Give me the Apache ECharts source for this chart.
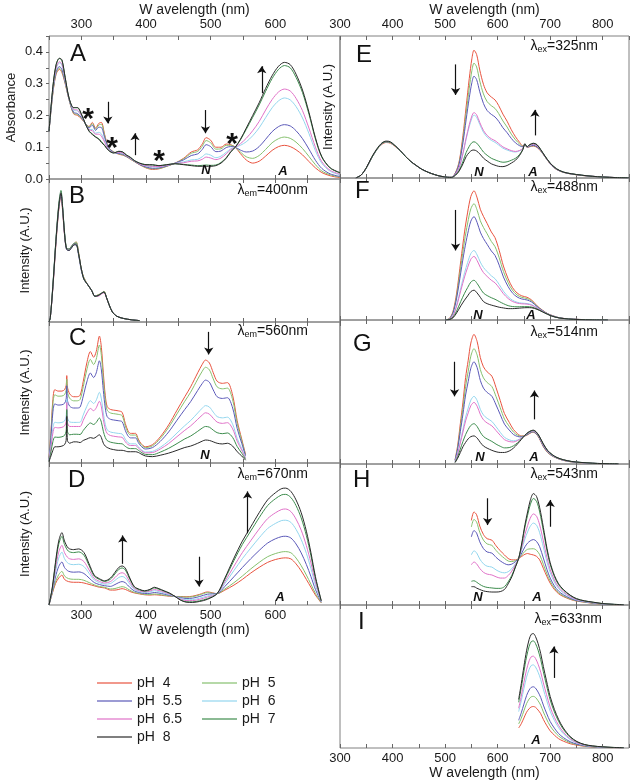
<!DOCTYPE html>
<html><head><meta charset="utf-8">
<script src="https://cdn.jsdelivr.net/npm/echarts@6/dist/echarts.min.js"></script>
<style>html,body{margin:0;padding:0;background:#fff}#c{width:636px;height:783px}</style>
</head><body><div id="c"></div>
<script>
// ---------------- DATA ----------------
const phLabels = ['pH 4','pH 5','pH 5.5','pH 6','pH 6.5','pH 7','pH 8'];
const leftTickLabels = [300,400,500,600];
const rightTickLabels = [300,400,500,600,700,800];
const absTickLabels = [0,0.1,0.2,0.3,0.4];

// Panel A: absorbance (order of rows: pH 4,5,5.5,6,6.5,7,8)
const A_wl = [250,256,261,266,270,275,281,288,294,300,306,312,317,322,327,331,336,342,350,358,364,370,376,382,390,400,410,420,432,445,458,470,480,487,493,500,508,516,524,531,538,546,555,565,575,585,595,605,614,623,632,642,652,662,672,685,700];
const A_y = [
[.15,.27,.33,.345,.335,.30,.25,.205,.20,.19,.175,.165,.178,.16,.175,.178,.14,.10,.085,.078,.075,.07,.062,.055,.045,.035,.03,.032,.04,.05,.065,.085,.092,.11,.13,.122,.10,.10,.11,.108,.10,.08,.06,.05,.056,.072,.09,.102,.106,.102,.092,.076,.055,.035,.02,.01,.004],
[.15,.272,.333,.349,.339,.302,.25,.207,.203,.192,.175,.164,.174,.157,.17,.172,.137,.099,.085,.079,.076,.07,.063,.055,.046,.036,.032,.033,.04,.05,.063,.081,.087,.103,.121,.114,.094,.095,.106,.106,.1,.085,.07,.065,.074,.093,.114,.127,.132,.128,.116,.096,.071,.045,.025,.013,.006],
[.15,.275,.338,.354,.345,.305,.251,.21,.206,.194,.175,.161,.169,.153,.163,.162,.131,.098,.084,.08,.078,.071,.064,.056,.046,.038,.034,.035,.041,.05,.06,.074,.079,.093,.108,.102,.086,.088,.099,.102,.1,.091,.085,.088,.102,.125,.149,.165,.171,.167,.152,.127,.094,.059,.033,.016,.008],
[.15,.281,.347,.365,.358,.311,.253,.216,.214,.199,.175,.156,.156,.144,.147,.142,.12,.094,.083,.083,.081,.073,.065,.057,.048,.041,.039,.038,.043,.049,.054,.06,.062,.07,.079,.075,.067,.072,.084,.095,.1,.106,.117,.136,.161,.193,.224,.246,.255,.249,.228,.192,.143,.089,.049,.024,.013],
[.15,.284,.35,.369,.362,.314,.253,.219,.217,.2,.175,.155,.152,.141,.141,.135,.116,.093,.083,.084,.082,.073,.066,.057,.048,.042,.04,.039,.043,.049,.051,.056,.057,.062,.069,.066,.061,.066,.079,.092,.1,.111,.128,.152,.181,.217,.25,.274,.283,.277,.254,.215,.16,.1,.054,.027,.015],
[.15,.289,.359,.379,.373,.319,.255,.224,.224,.204,.175,.151,.142,.133,.127,.118,.106,.09,.082,.087,.085,.075,.068,.058,.05,.045,.044,.042,.045,.048,.046,.044,.042,.043,.044,.043,.044,.052,.067,.086,.1,.123,.156,.194,.233,.276,.316,.345,.357,.35,.32,.272,.204,.126,.068,.034,.019],
[.15,.29,.36,.38,.375,.32,.255,.225,.225,.205,.175,.15,.14,.132,.125,.115,.105,.09,.082,.087,.085,.075,.068,.058,.05,.045,.045,.042,.045,.048,.045,.042,.04,.04,.04,.04,.042,.05,.065,.085,.10,.125,.16,.2,.24,.285,.325,.355,.367,.36,.33,.28,.21,.13,.07,.035,.02]
];

// Panel B: excitation, emission 400 nm
const B_wl = [250,252,256,260,263,266,268.5,271,274,277,281,285,289,292,296,300,304,310,316,321,326,331,335,339,343,348,355,365,378,390];
const B_y = [
[0,.03,.24,.50,.68,.82,.88,.78,.61,.52,.51,.53,.55,.56,.48,.37,.31,.26,.22,.18,.19,.2,.215,.17,.12,.07,.04,.025,.015,.01],
[0,.03,.25,.52,.70,.84,.90,.80,.62,.52,.51,.53,.55,.56,.48,.37,.31,.26,.22,.18,.19,.2,.215,.17,.12,.07,.04,.025,.015,.01],
[0,.03,.24,.51,.69,.83,.89,.79,.61,.51,.50,.52,.54,.54,.46,.36,.30,.26,.22,.18,.185,.2,.21,.17,.12,.07,.04,.025,.015,.01],
[0,.03,.26,.53,.71,.85,.91,.81,.63,.52,.51,.53,.55,.55,.47,.37,.30,.26,.22,.18,.185,.2,.21,.17,.12,.07,.04,.025,.015,.01],
[0,.03,.25,.52,.71,.85,.91,.80,.62,.52,.51,.53,.55,.55,.47,.37,.30,.26,.22,.18,.18,.195,.205,.165,.12,.07,.04,.025,.015,.01],
[0,.03,.26,.53,.72,.86,.92,.81,.63,.52,.51,.53,.55,.55,.47,.37,.30,.26,.22,.18,.185,.2,.21,.17,.12,.07,.04,.025,.015,.01],
[0,.03,.25,.52,.70,.84,.90,.80,.62,.51,.50,.52,.54,.54,.47,.37,.30,.26,.22,.18,.185,.2,.21,.17,.12,.07,.04,.025,.015,.01]
];

// Panel C: excitation, emission 560 nm
const C_wl = [250,253,256,259,264,270,274,276.5,277.5,278.5,282,288,293,298,303,308.5,314,319,323,328,331,334,337,340,345,350,357,363,368,372,376,380,384,388,392,399,410,422,435,448,460,469,480,487,492,498,504,510,518,526,534,541,548,554];
const C_y = [
[.03,.22,.45,.52,.51,.51,.52,.55,.62,.54,.49,.47,.47,.48,.58,.71,.79,.75,.79,.90,.82,.64,.48,.40,.38,.375,.37,.36,.28,.23,.21,.21,.21,.17,.14,.115,.13,.185,.27,.375,.47,.54,.64,.70,.73,.71,.64,.58,.565,.57,.48,.30,.17,.06],
[.028,.205,.418,.484,.474,.475,.485,.515,.594,.506,.459,.441,.441,.45,.542,.661,.735,.698,.736,.837,.762,.595,.448,.374,.355,.35,.345,.336,.262,.217,.198,.198,.198,.161,.133,.109,.122,.173,.252,.349,.438,.502,.595,.651,.679,.661,.596,.54,.526,.531,.448,.28,.159,.056],
[.025,.178,.36,.419,.411,.413,.423,.453,.548,.445,.403,.39,.39,.396,.475,.575,.638,.606,.639,.725,.66,.515,.39,.328,.31,.305,.3,.293,.231,.193,.178,.178,.178,.146,.121,.099,.109,.153,.22,.304,.38,.435,.515,.564,.588,.573,.518,.47,.458,.463,.39,.245,.14,.05],
[.019,.123,.245,.289,.285,.288,.298,.328,.455,.323,.291,.288,.288,.289,.341,.402,.442,.422,.445,.501,.455,.355,.275,.235,.22,.215,.21,.206,.169,.145,.136,.136,.136,.116,.097,.078,.082,.111,.156,.213,.265,.301,.355,.389,.407,.397,.361,.329,.32,.325,.275,.175,.102,.037],
[.017,.108,.212,.253,.249,.253,.263,.293,.429,.289,.259,.259,.259,.259,.303,.354,.387,.371,.391,.438,.398,.31,.242,.209,.195,.19,.185,.182,.151,.131,.124,.124,.124,.107,.091,.072,.074,.099,.138,.187,.232,.263,.31,.34,.356,.347,.317,.29,.281,.286,.242,.155,.091,.034],
[.013,.079,.151,.184,.182,.186,.196,.226,.379,.225,.2,.204,.204,.202,.231,.262,.284,.273,.288,.319,.289,.225,.181,.159,.148,.143,.138,.136,.118,.106,.102,.102,.102,.091,.078,.061,.059,.077,.104,.138,.171,.191,.225,.248,.259,.254,.233,.215,.208,.213,.181,.117,.07,.027],
[.01,.05,.09,.115,.115,.12,.13,.16,.33,.16,.14,.15,.15,.145,.16,.17,.18,.175,.185,.2,.18,.14,.12,.11,.10,.095,.09,.09,.085,.08,.08,.08,.08,.075,.065,.05,.045,.055,.07,.09,.11,.12,.14,.155,.163,.16,.15,.14,.135,.14,.12,.08,.05,.02]
];

// Panel D: excitation, emission 670 nm
const D_wl = [250,255,260,265,270,274,280,288,296,304,312,320,328,336,345,352,358,363,368,375,382,390,398,406,413,420,428,436,445,453,462,472,483,495,510,522,536,549,562,575,588,600,610,616,624,632,640,648,655,662,671];
const D_y = [
[0,.08,.15,.19,.21,.18,.165,.16,.16,.155,.145,.135,.125,.12,.105,.105,.11,.115,.11,.095,.085,.078,.072,.07,.072,.07,.066,.062,.06,.06,.058,.062,.075,.092,.08,.105,.14,.18,.225,.265,.30,.32,.33,.332,.325,.29,.24,.18,.125,.07,.015],
[0,.084,.164,.213,.237,.204,.186,.181,.181,.174,.158,.142,.13,.125,.113,.116,.124,.129,.124,.104,.089,.081,.075,.074,.077,.074,.069,.064,.06,.058,.055,.058,.071,.087,.08,.113,.157,.204,.254,.3,.34,.362,.374,.376,.368,.331,.277,.211,.147,.082,.016],
[0,.092,.197,.271,.303,.264,.238,.231,.233,.222,.19,.158,.144,.136,.131,.144,.158,.165,.157,.124,.099,.088,.081,.082,.088,.084,.077,.069,.06,.052,.046,.048,.06,.076,.08,.131,.199,.264,.326,.384,.436,.466,.482,.484,.472,.43,.367,.285,.201,.11,.02],
[0,.102,.231,.33,.372,.326,.292,.284,.287,.271,.223,.176,.157,.147,.151,.173,.194,.201,.191,.146,.109,.095,.087,.092,.101,.094,.084,.074,.06,.047,.037,.038,.048,.064,.08,.151,.243,.326,.401,.473,.538,.574,.595,.597,.582,.533,.461,.364,.257,.14,.023],
[0,.108,.255,.372,.42,.369,.33,.321,.325,.306,.247,.188,.167,.155,.165,.193,.219,.227,.215,.162,.117,.1,.092,.098,.109,.102,.09,.078,.06,.043,.031,.031,.04,.056,.08,.165,.273,.369,.453,.535,.608,.649,.673,.676,.658,.605,.527,.418,.297,.161,.026],
[0,.116,.287,.427,.483,.426,.379,.369,.374,.351,.277,.203,.18,.166,.182,.219,.251,.261,.247,.181,.126,.107,.097,.106,.12,.111,.097,.083,.06,.037,.023,.022,.03,.045,.08,.182,.313,.426,.521,.615,.7,.748,.776,.779,.757,.7,.613,.489,.348,.188,.029],
[0,.12,.30,.45,.51,.45,.40,.39,.395,.37,.29,.21,.185,.17,.19,.23,.265,.275,.26,.19,.13,.11,.10,.11,.125,.115,.10,.085,.06,.035,.02,.018,.025,.04,.08,.19,.33,.45,.55,.65,.74,.79,.82,.823,.80,.74,.65,.52,.37,.20,.03]
];

// Panel E: emission, excitation 325 nm
const E_wl = [330,340,350,360,370,380,388,396,405,415,425,435,445,455,468,480,492,505,512,520,527,534,540,546,551,555,560,566,573,580,588,595,602,610,618,626,634,642,648,652,656,661,668,675,682,690,700,712,725,740,760,780,800,825,850];
const E_y = [
[0,.02,.07,.14,.2,.238,.25,.245,.222,.188,.15,.115,.088,.063,.04,.024,.012,.005,.005,.04,.12,.30,.50,.70,.84,.90,.87,.76,.66,.60,.57,.55,.51,.45,.40,.34,.29,.25,.225,.24,.215,.22,.225,.215,.19,.15,.10,.06,.04,.028,.018,.012,.007,.003,.001],
[0,.02,.07,.14,.2,.243,.255,.25,.225,.19,.15,.115,.088,.063,.04,.024,.012,.005,.005,.037,.111,.274,.455,.632,.756,.809,.782,.683,.592,.538,.509,.49,.454,.402,.359,.309,.269,.238,.222,.24,.216,.222,.228,.218,.191,.151,.101,.061,.04,.028,.018,.012,.007,.003,.001],
[0,.02,.07,.14,.2,.243,.255,.25,.225,.19,.15,.115,.088,.063,.04,.024,.012,.005,.005,.035,.102,.248,.409,.565,.672,.717,.693,.607,.525,.475,.448,.43,.399,.354,.319,.279,.247,.227,.219,.24,.216,.224,.23,.22,.193,.151,.101,.061,.041,.029,.019,.012,.007,.003,.001],
[0,.02,.07,.14,.2,.243,.255,.25,.225,.19,.15,.115,.088,.063,.04,.024,.012,.005,.004,.027,.075,.17,.273,.362,.421,.443,.428,.377,.322,.288,.265,.251,.232,.21,.197,.187,.183,.192,.209,.24,.218,.23,.238,.228,.197,.153,.103,.063,.041,.029,.019,.012,.007,.003,.001],
[0,.02,.07,.14,.2,.243,.255,.25,.225,.19,.15,.115,.088,.063,.04,.024,.012,.005,.004,.028,.076,.175,.281,.375,.437,.461,.445,.391,.335,.3,.276,.263,.243,.219,.205,.193,.187,.194,.209,.24,.217,.229,.238,.228,.196,.153,.103,.063,.041,.029,.019,.012,.007,.003,.001],
[0,.02,.07,.14,.2,.243,.255,.25,.225,.19,.15,.115,.088,.063,.04,.024,.012,.005,.004,.022,.056,.117,.179,.223,.249,.255,.246,.219,.183,.16,.139,.128,.118,.111,.114,.125,.139,.167,.202,.24,.22,.234,.243,.233,.199,.155,.105,.065,.042,.03,.02,.012,.007,.003,.001],
[0,.02,.072,.145,.205,.248,.26,.255,.228,.192,.152,.116,.089,.063,.04,.024,.012,.005,.004,.02,.05,.10,.15,.18,.195,.197,.19,.17,.14,.12,.10,.09,.082,.08,.088,.105,.125,.16,.20,.24,.22,.235,.245,.235,.20,.155,.105,.065,.042,.03,.02,.012,.007,.003,.001]
];

// Panel F: emission, excitation 488 nm
const F_wl = [500,508,515,522,530,537,543,549,555,561,567,573,580,588,595,603,611,620,628,637,646,656,665,675,685,695,705,718,735,755,780,810];
const F_y = [
[0,.01,.06,.19,.42,.62,.76,.87,.91,.86,.78,.73,.68,.62,.58,.49,.38,.29,.23,.19,.17,.16,.14,.10,.07,.045,.03,.015,.008,.004,.001,0],
[0,.009,.054,.172,.378,.558,.683,.783,.819,.773,.699,.652,.607,.553,.517,.438,.342,.263,.211,.176,.159,.151,.133,.097,.068,.044,.029,.015,.008,.004,.001,0],
[0,.008,.048,.154,.337,.495,.607,.696,.728,.686,.619,.574,.533,.486,.455,.386,.303,.235,.191,.162,.148,.141,.126,.094,.067,.044,.029,.015,.008,.004,.001,0],
[0,.006,.033,.106,.228,.332,.406,.468,.49,.458,.408,.37,.341,.311,.291,.25,.203,.164,.14,.125,.119,.116,.108,.085,.063,.042,.027,.014,.007,.003,.001,0],
[0,.005,.03,.098,.209,.303,.371,.428,.448,.418,.371,.334,.307,.28,.262,.226,.185,.151,.131,.119,.114,.112,.104,.084,.062,.042,.027,.014,.007,.003,.001,0],
[0,.004,.02,.064,.132,.188,.229,.267,.28,.257,.222,.19,.172,.157,.146,.13,.115,.101,.095,.093,.094,.094,.091,.078,.059,.041,.026,.014,.007,.003,.001,0],
[0,.003,.015,.05,.1,.14,.17,.2,.21,.19,.16,.13,.115,.105,.098,.09,.085,.08,.08,.082,.085,.087,.086,.075,.058,.04,.025,.014,.007,.003,.001,0]
];

// Panel G: emission, excitation 514 nm
const G_wl = [519,524,529,534,539,544,549,555,561,567,573,580,589,597,605,613,622,630,638,645,652,658,664,668,673,679,687,695,704,713,725,740,755,770,790,810,830];
const G_y = [
[.03,.13,.28,.43,.60,.72,.84,.90,.85,.74,.675,.64,.61,.53,.44,.35,.29,.24,.21,.195,.195,.205,.218,.22,.21,.18,.12,.08,.055,.04,.025,.015,.01,.006,.003,.002,.001],
[.027,.117,.252,.387,.537,.644,.749,.801,.756,.657,.598,.566,.538,.468,.39,.312,.262,.222,.2,.192,.196,.207,.22,.222,.212,.182,.123,.082,.056,.041,.026,.015,.01,.006,.003,.002,.001],
[.025,.106,.226,.346,.479,.573,.665,.71,.669,.581,.527,.497,.471,.41,.343,.277,.236,.205,.191,.188,.196,.209,.222,.224,.214,.184,.125,.084,.058,.041,.026,.016,.011,.007,.003,.002,.001],
[.018,.075,.158,.241,.326,.388,.444,.47,.441,.38,.34,.317,.296,.259,.22,.185,.168,.161,.167,.18,.198,.214,.227,.229,.219,.189,.132,.089,.061,.043,.028,.017,.011,.007,.004,.002,.001],
[.017,.07,.146,.222,.299,.355,.405,.428,.401,.345,.307,.285,.265,.232,.199,.169,.156,.153,.163,.178,.198,.215,.227,.23,.22,.19,.133,.09,.062,.043,.028,.017,.011,.007,.004,.002,.001],
[.012,.051,.104,.157,.204,.24,.268,.28,.26,.221,.191,.174,.157,.138,.123,.112,.114,.126,.148,.173,.199,.218,.23,.233,.223,.193,.138,.093,.064,.044,.029,.018,.012,.008,.004,.002,.001],
[.01,.04,.08,.12,.15,.175,.19,.195,.18,.15,.125,.11,.095,.085,.08,.08,.09,.11,.14,.17,.2,.22,.232,.235,.225,.195,.14,.095,.065,.045,.03,.018,.012,.008,.004,.002,.001]
];

// Panel H: emission, excitation 543 nm
const H_wl = [550,555,560,566,573,580,589,597,605,613,620,627,634,640,646,652,657,662,668,674,680,687,694,700,708,716,725,738,750,765,782,800,820,840];
const H_y = [
[.60,.66,.64,.56,.50,.47,.46,.42,.385,.355,.33,.32,.32,.33,.345,.36,.365,.36,.355,.345,.32,.26,.20,.155,.11,.08,.06,.04,.028,.02,.012,.006,.003,.001],
[.553,.607,.588,.515,.46,.433,.423,.387,.356,.331,.312,.308,.315,.33,.355,.381,.395,.398,.399,.388,.357,.289,.22,.17,.12,.087,.065,.043,.03,.021,.013,.006,.003,.001],
[.483,.528,.51,.448,.4,.376,.368,.338,.313,.294,.285,.29,.308,.33,.369,.413,.439,.455,.464,.451,.413,.333,.25,.191,.135,.098,.073,.048,.032,.023,.014,.007,.004,.001],
[.356,.384,.37,.326,.292,.275,.269,.249,.234,.228,.236,.258,.294,.33,.394,.469,.518,.558,.581,.566,.512,.411,.304,.23,.162,.116,.086,.056,.037,.025,.016,.008,.004,.002],
[.285,.305,.292,.259,.232,.219,.213,.2,.191,.191,.209,.24,.287,.33,.409,.501,.563,.615,.646,.63,.568,.454,.334,.252,.177,.127,.094,.06,.039,.027,.017,.009,.004,.002],
[.168,.172,.162,.146,.132,.125,.121,.118,.118,.13,.164,.21,.274,.33,.432,.553,.636,.71,.755,.736,.66,.527,.384,.288,.202,.144,.106,.068,.044,.029,.019,.01,.005,.002],
[.13,.13,.12,.11,.10,.095,.092,.092,.095,.11,.15,.20,.27,.33,.44,.57,.66,.74,.79,.77,.69,.55,.40,.30,.21,.15,.11,.07,.045,.03,.02,.01,.005,.002]
];

// Panel I: emission, excitation 633 nm
const I_wl = [640,645,650,655,660,664,668,672,677,682,687,693,700,708,716,725,738,751,765,780,800,820,840];
const I_y = [
[.14,.17,.21,.25,.275,.287,.29,.285,.265,.24,.20,.16,.12,.09,.065,.048,.03,.02,.012,.007,.004,.002,.001],
[.168,.209,.26,.31,.343,.358,.361,.354,.33,.299,.252,.203,.154,.115,.084,.061,.037,.024,.014,.008,.005,.002,.001],
[.194,.246,.307,.366,.406,.424,.428,.419,.391,.353,.3,.244,.185,.139,.101,.073,.044,.027,.016,.009,.005,.003,.001],
[.254,.33,.415,.495,.551,.577,.581,.567,.53,.479,.411,.337,.257,.193,.142,.1,.059,.034,.019,.012,.006,.003,.002],
[.278,.363,.458,.547,.61,.638,.642,.627,.586,.53,.455,.374,.286,.214,.158,.111,.065,.037,.021,.013,.007,.003,.002],
[.32,.422,.534,.637,.712,.744,.749,.731,.684,.618,.533,.439,.336,.252,.187,.131,.075,.043,.024,.014,.008,.004,.002],
[.34,.45,.57,.68,.76,.795,.80,.78,.73,.66,.57,.47,.36,.27,.20,.14,.08,.045,.025,.015,.008,.004,.002]
];

// Arrow annotations per panel: [wavelength, from, to]
const A_arrows = [[341,.243,.175],[383,.075,.144],[492,.217,.144],[579,.27,.355]];
const B_arrows = [];
const C_arrows = [[497,.93,.77]];
const D_arrows = [[364,.29,.49],[482,.34,.13],[557,.505,.80]];
const E_arrows = [[520,.80,.585],[671,.30,.48]];
const F_arrows = [[520,.775,.49]];
const G_arrows = [[518,.71,.47],[670,.31,.51]];
const H_arrows = [[581,.757,.567],[700,.555,.745]];
const I_arrows = [[707,.49,.71]];

// ---------------- LAYOUT / STYLE ----------------
const FONT = '"Liberation Sans", Arial, sans-serif';
const COLORS = ['#e8533f','#86c06e','#5a58b8','#93d6ee','#e072c8','#3d8c4d','#2a2a2a'];
const panels = [
  {wl:A_wl, y:A_y, ar:A_arrows, g:{left:49,top:36,width:291,height:143}, xr:[250,700], ymax:0.45, col:'L'},
  {wl:B_wl, y:B_y, ar:B_arrows, g:{left:49,top:179,width:291,height:143}, xr:[250,700], ymax:1, col:'L'},
  {wl:C_wl, y:C_y, ar:C_arrows, g:{left:49,top:322,width:291,height:141}, xr:[250,700], ymax:1, col:'L'},
  {wl:D_wl, y:D_y, ar:D_arrows, g:{left:49,top:463,width:291,height:142}, xr:[250,700], ymax:1, col:'L'},
  {wl:E_wl, y:E_y, ar:E_arrows, g:{left:340,top:36,width:289,height:142}, xr:[300,850], ymax:1, col:'R'},
  {wl:F_wl, y:F_y, ar:F_arrows, g:{left:340,top:178,width:289,height:142}, xr:[300,850], ymax:1, col:'R'},
  {wl:G_wl, y:G_y, ar:G_arrows, g:{left:340,top:320,width:289,height:144}, xr:[300,850], ymax:1, col:'R'},
  {wl:H_wl, y:H_y, ar:H_arrows, g:{left:340,top:464,width:289,height:141}, xr:[300,850], ymax:1, col:'R'},
  {wl:I_wl, y:I_y, ar:I_arrows, g:{left:340,top:605,width:289,height:143}, xr:[300,850], ymax:1, col:'R'}
];

const grids = [], xAxes = [], yAxes = [], series = [];
panels.forEach((p, i) => {
  grids.push(Object.assign({show:true, borderColor:'#808080', borderWidth:1, backgroundColor:'transparent'}, p.g));
  const ticks = p.col === 'L' ? leftTickLabels : rightTickLabels;
  const fmt = v => ticks.includes(v) ? String(v) : '';
  const botLabel = (i === 3 || i === 8);
  const topLabel = (i === 0 || i === 4);
  const base = {gridIndex:i, type:'value', min:p.xr[0], max:p.xr[1], interval:50,
    axisLine:{show:false}, splitLine:{show:false},
    axisTick:{show:true, inside:true, length:4, lineStyle:{color:'#666'}}};
  xAxes.push(Object.assign({}, base, {position:'bottom',
    axisLabel:{show:botLabel, formatter:fmt, fontSize:13, color:'#1a1a1a', fontFamily:FONT, margin:4, hideOverlap:false},
    name: botLabel ? 'W avelength (nm)' : '', nameLocation:'middle', nameGap: 18,
    nameTextStyle:{fontSize:14, color:'#1a1a1a', fontFamily:FONT}}));
  xAxes.push(Object.assign({}, base, {position:'top',
    axisLabel:{show:topLabel, formatter:fmt, fontSize:13, color:'#1a1a1a', fontFamily:FONT, margin:5, hideOverlap:false},
    name: topLabel ? 'W avelength (nm)' : '', nameLocation:'middle', nameGap:16,
    nameTextStyle:{fontSize:14, color:'#1a1a1a', fontFamily:FONT}}));
  let yname = '', ygap = 18;
  if (i === 0) { yname = 'Absorbance'; ygap = 31; }
  else if (i === 1 || i === 2 || i === 3) { yname = 'Intensity (A.U.)'; ygap = 17; }
  else if (i === 4) { yname = 'Intensity (A.U.)'; ygap = 5; }
  yAxes.push({gridIndex:i, type:'value', min:0, max:p.ymax, interval: i===0 ? 0.05 : 0.25,
    axisLine:{show:false}, splitLine:{show:false},
    axisTick:{show: i===0, inside:false, length:3, lineStyle:{color:'#666'}},
    axisLabel:{show: i===0, fontSize:13, color:'#1a1a1a', fontFamily:FONT, margin:6,
      formatter: v => absTickLabels.some(t => Math.abs(t - v) < 1e-6) ? v.toFixed(1) : ''},
    name:yname, nameLocation:'middle', nameGap:ygap, nameRotate:90,
    nameTextStyle:{fontSize:13, color:'#1a1a1a', fontFamily:FONT}});
  p.y.forEach((vals, k) => {
    const s = {type:'line', name:phLabels[k], xAxisIndex:2*i, yAxisIndex:i,
      data: p.wl.map((w, j) => [w, vals[j]]),
      symbol:'none', showSymbol:false, smooth:0.3,
      lineStyle:{width:1, color:COLORS[k]}, itemStyle:{color:COLORS[k]}};
    if (k === 6 && p.ar.length) {
      s.markLine = {silent:true, symbol:['none','arrow'], symbolSize:7, animation:false,
        lineStyle:{color:'#111', width:1.2, type:'solid'}, label:{show:false},
        emphasis:{disabled:true},
        data: p.ar.map(a => [{coord:[a[0], a[1]]}, {coord:[a[0], a[2]]}])};
    }
    series.push(s);
  });
});

// text annotations
const graphic = [];
const txt = (x, y, text, font, align) => graphic.push({type:'text', silent:true, z:100,
  style:{x, y, text, font, fill:'#111', align: align || 'left', verticalAlign:'middle'}});
[['A',70,54],['B',69,196],['C',69,338],['D',68,480],['E',356,55],['F',355,191],['G',353,344],['H',353,480],['I',358,622]]
  .forEach(l => txt(l[1], l[2], l[0], '24px ' + FONT));
[['N',206,170],['A',283,171],['N',205,455],['A',280,597],['N',479,172],['A',533,172],['N',478,315],['A',531,315],['N',480,457],['A',534,457],['N',478,597],['A',537,597],['A',536,740]]
  .forEach(l => txt(l[1], l[2], l[0], 'italic bold 13px ' + FONT, 'center'));
[[88,113],[112,142],[159,155],[232,138]].forEach(a => txt(a[0], a[1] + 7, '*', 'bold 30px ' + FONT, 'center'));
[['em','400',308,190],['em','560',308,331],['em','670',308,474],['ex','325',598,46],['ex','488',598,187],['ex','514',598,332],['ex','543',598,474],['ex','633',602,619]]
  .forEach(l => graphic.push({type:'text', silent:true, z:100, style:{
    x:l[2], y:l[3], text:'{a|λ}{s|' + l[0] + '}{a|=' + l[1] + 'nm}', align:'right', verticalAlign:'middle',
    rich:{a:{fontSize:14, fontFamily:FONT, fill:'#111'}, s:{fontSize:9, fontFamily:FONT, fill:'#111', padding:[8,0,0,0], verticalAlign:'bottom'}}}}));

const legendBase = {orient:'vertical', itemWidth:35, itemHeight:2, itemGap:4, icon:'rect',
  textStyle:{fontSize:14, color:'#1a1a1a', fontFamily:FONT, lineHeight:14},
  formatter: n => n.replace(' ', '  '), selectedMode:false,
  itemStyle:{opacity:0.6}};

const option = {
  animation:false,
  textStyle:{fontFamily:FONT},
  grid:grids, xAxis:xAxes, yAxis:yAxes, series,
  legend:[
    Object.assign({}, legendBase, {left:92, top:671, data:['pH 4','pH 5.5','pH 6.5','pH 8']}),
    Object.assign({}, legendBase, {left:197, top:671, data:['pH 5','pH 6','pH 7']})
  ],
  graphic
};
const chart = echarts.init(document.getElementById('c'), null, {renderer:'canvas'});
chart.setOption(option);
</script></body></html>
